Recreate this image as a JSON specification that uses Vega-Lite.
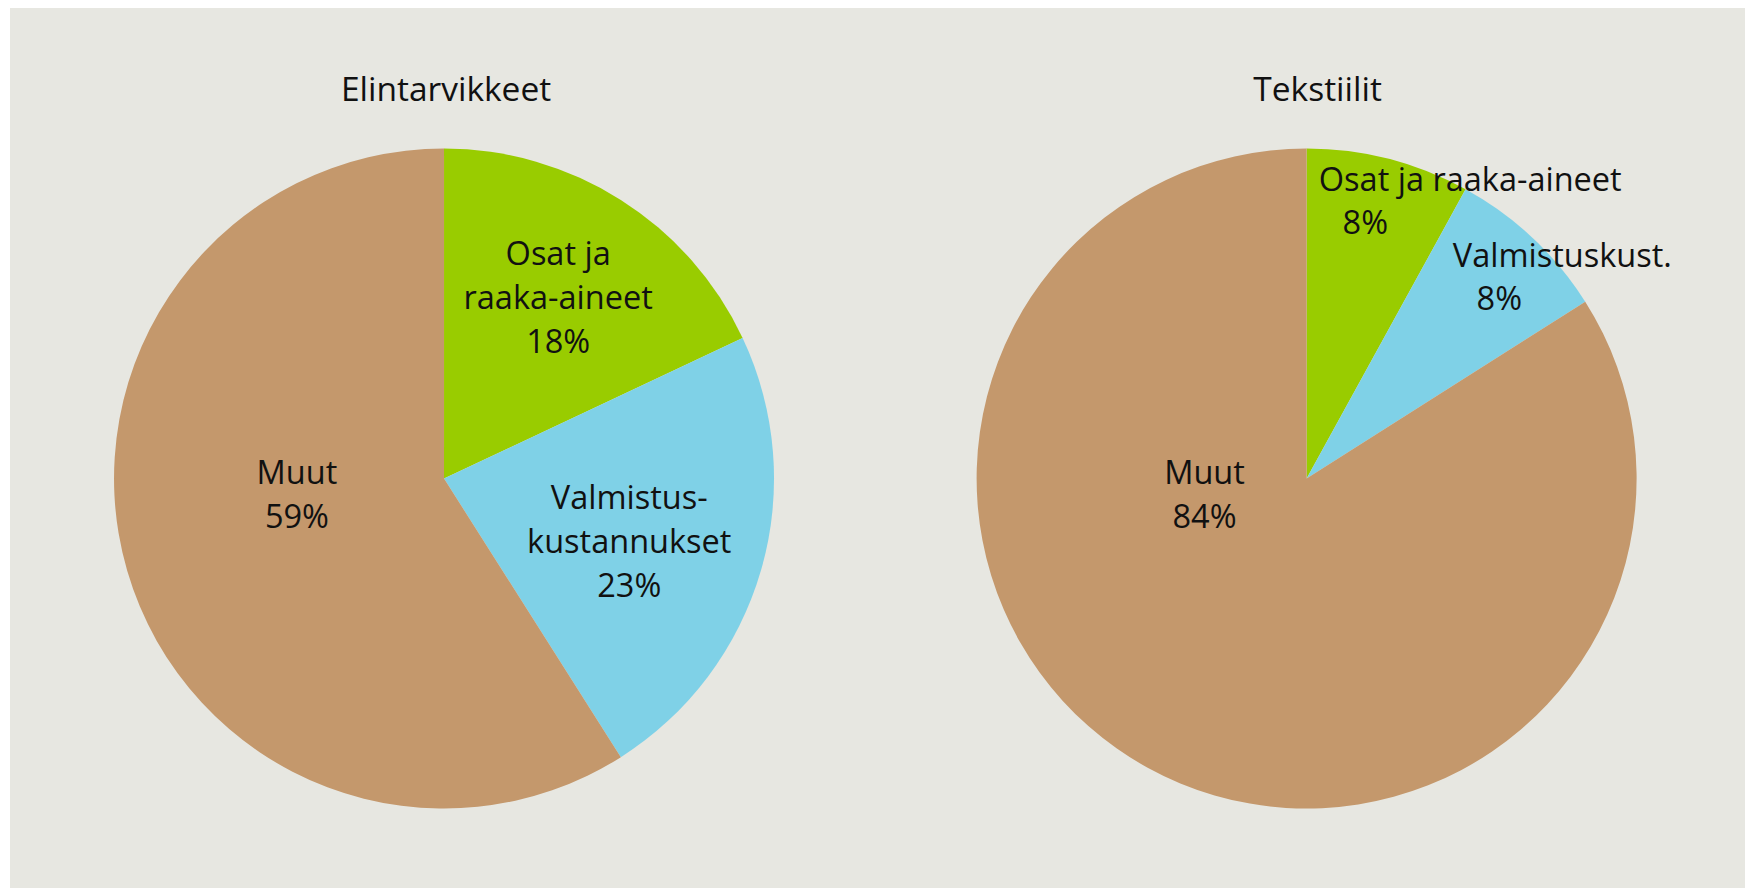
{
  "$schema": "https://vega.github.io/schema/vega-lite/v6.json",
  "width": 1745,
  "height": 888,
  "autosize": {"type": "fit", "contains": "padding"},
  "padding": {"left": 10, "top": 8, "right": 0, "bottom": 0},
  "background": "#ffffff",
  "config": {
    "view": {"fill": "#e7e7e1", "stroke": null},
    "text": {"font": "Open Sans", "fontSize": 32.5, "color": "#111111"}
  },
  "data": {
    "values": [
      {"group": "Elintarvikkeet", "cat": "Osat ja raaka-aineet", "value": 18, "ord": 1, "label": "Osat ja\nraaka-aineet\n18%", "name": "Osat ja raaka-aineet", "pct": "18%"},
      {"group": "Elintarvikkeet", "cat": "Valmistuskustannukset", "value": 23, "ord": 2, "label": "Valmistus-\nkustannukset\n23%", "name": "Valmistuskustannukset", "pct": "23%"},
      {"group": "Elintarvikkeet", "cat": "Muut", "value": 59, "ord": 3, "label": "Muut\n59%", "name": "Muut", "pct": "59%"},
      {"group": "Tekstiilit", "cat": "Osat ja raaka-aineet", "value": 8, "ord": 1, "label": "Osat ja raaka-aineet\n8%", "name": "Osat ja raaka-aineet", "pct": "8%"},
      {"group": "Tekstiilit", "cat": "Valmistuskustannukset", "value": 8, "ord": 2, "label": "Valmistuskust.\n8%", "name": "Valmistuskust.", "pct": "8%"},
      {"group": "Tekstiilit", "cat": "Muut", "value": 84, "ord": 3, "label": "Muut\n84%", "name": "Muut", "pct": "84%"}
    ]
  },
  "encoding": {
    "x": {"field": "group", "type": "nominal", "scale": {"type": "point", "domain": ["Elintarvikkeet", "Tekstiilit"], "padding": 0.5057, "align": 0.4975}, "axis": null},
    "y": {"datum": 0, "type": "quantitative", "scale": {"domain": [-0.4653, 0.5347], "zero": false, "nice": false}, "axis": null}
  },
  "layer": [
    {
      "transform": [{"filter": "datum.group === 'Elintarvikkeet'"}],
      "mark": {"type": "arc", "outerRadius": 330},
      "encoding": {
        "theta": {"field": "value", "type": "quantitative", "stack": true},
        "order": {"field": "ord", "type": "quantitative"},
        "color": {"field": "cat", "type": "nominal", "scale": {"domain": ["Osat ja raaka-aineet", "Valmistuskustannukset", "Muut"], "range": ["#99cc00", "#7fd1e7", "#c4986c"]}, "legend": null}
      }
    },
    {
      "transform": [{"filter": "datum.group === 'Tekstiilit'"}],
      "mark": {"type": "arc", "outerRadius": 330},
      "encoding": {
        "theta": {"field": "value", "type": "quantitative", "stack": true},
        "order": {"field": "ord", "type": "quantitative"},
        "color": {"field": "cat", "type": "nominal", "scale": {"domain": ["Osat ja raaka-aineet", "Valmistuskustannukset", "Muut"], "range": ["#99cc00", "#7fd1e7", "#c4986c"]}, "legend": null}
      }
    },
    {
      "transform": [{"filter": "datum.group === 'Elintarvikkeet' && datum.ord === 3"}],
      "mark": {"type": "text", "dy": -378, "dx": 2, "fontSize": 33.5, "baseline": "alphabetic", "align": "center"},
      "encoding": {"text": {"field": "group"}}
    },
    {
      "transform": [{"filter": "datum.group === 'Tekstiilit' && datum.ord === 3"}],
      "mark": {"type": "text", "dy": -378, "dx": 11, "fontSize": 33.5, "baseline": "alphabetic", "align": "center"},
      "encoding": {"text": {"field": "group"}}
    },
    {
      "transform": [{"filter": "datum.group === 'Elintarvikkeet'"}],
      "mark": {"type": "text", "radius": 213, "dy": -44, "lineBreak": "\n", "lineHeight": 44, "baseline": "middle", "align": "center"},
      "encoding": {
        "theta": {"field": "value", "type": "quantitative", "stack": true},
        "order": {"field": "ord", "type": "quantitative"},
        "text": {"condition": {"test": "datum.ord === 1", "field": "label"}, "value": ""}
      }
    },
    {
      "transform": [{"filter": "datum.group === 'Elintarvikkeet'"}],
      "mark": {"type": "text", "radius": 196, "dx": -3, "dy": -34, "lineBreak": "\n", "lineHeight": 44, "baseline": "middle", "align": "center"},
      "encoding": {
        "theta": {"field": "value", "type": "quantitative", "stack": true},
        "order": {"field": "ord", "type": "quantitative"},
        "text": {"condition": {"test": "datum.ord === 2", "field": "label"}, "value": ""}
      }
    },
    {
      "transform": [{"filter": "datum.group === 'Elintarvikkeet'"}],
      "mark": {"type": "text", "radius": 148, "dx": -5, "dy": -46, "lineBreak": "\n", "lineHeight": 44, "baseline": "middle", "align": "center"},
      "encoding": {
        "theta": {"field": "value", "type": "quantitative", "stack": true},
        "order": {"field": "ord", "type": "quantitative"},
        "text": {"condition": {"test": "datum.ord === 3", "field": "label"}, "value": ""}
      }
    },
    {
      "transform": [{"filter": "datum.group === 'Tekstiilit'"}],
      "mark": {"type": "text", "radius": 264, "dx": -7, "dy": 1, "baseline": "middle", "align": "center"},
      "encoding": {
        "theta": {"field": "value", "type": "quantitative", "stack": true},
        "order": {"field": "ord", "type": "quantitative"},
        "text": {"condition": {"test": "datum.ord === 1", "field": "pct"}, "value": ""}
      }
    },
    {
      "transform": [{"filter": "datum.group === 'Tekstiilit'"}],
      "mark": {"type": "text", "radius": 264, "dx": 98, "dy": -42, "baseline": "middle", "align": "center"},
      "encoding": {
        "theta": {"field": "value", "type": "quantitative", "stack": true},
        "order": {"field": "ord", "type": "quantitative"},
        "text": {"condition": {"test": "datum.ord === 1", "field": "name"}, "value": ""}
      }
    },
    {
      "transform": [{"filter": "datum.group === 'Tekstiilit'"}],
      "mark": {"type": "text", "radius": 264, "dx": 12, "dy": 14, "baseline": "middle", "align": "center"},
      "encoding": {
        "theta": {"field": "value", "type": "quantitative", "stack": true},
        "order": {"field": "ord", "type": "quantitative"},
        "text": {"condition": {"test": "datum.ord === 2", "field": "pct"}, "value": ""}
      }
    },
    {
      "transform": [{"filter": "datum.group === 'Tekstiilit'"}],
      "mark": {"type": "text", "radius": 264, "dx": 75, "dy": -29, "baseline": "middle", "align": "center"},
      "encoding": {
        "theta": {"field": "value", "type": "quantitative", "stack": true},
        "order": {"field": "ord", "type": "quantitative"},
        "text": {"condition": {"test": "datum.ord === 2", "field": "name"}, "value": ""}
      }
    },
    {
      "transform": [{"filter": "datum.group === 'Tekstiilit'"}],
      "mark": {"type": "text", "radius": 104, "dx": -52, "dy": -96, "lineBreak": "\n", "lineHeight": 44, "baseline": "middle", "align": "center"},
      "encoding": {
        "theta": {"field": "value", "type": "quantitative", "stack": true},
        "order": {"field": "ord", "type": "quantitative"},
        "text": {"condition": {"test": "datum.ord === 3", "field": "label"}, "value": ""}
      }
    }
  ]
}
